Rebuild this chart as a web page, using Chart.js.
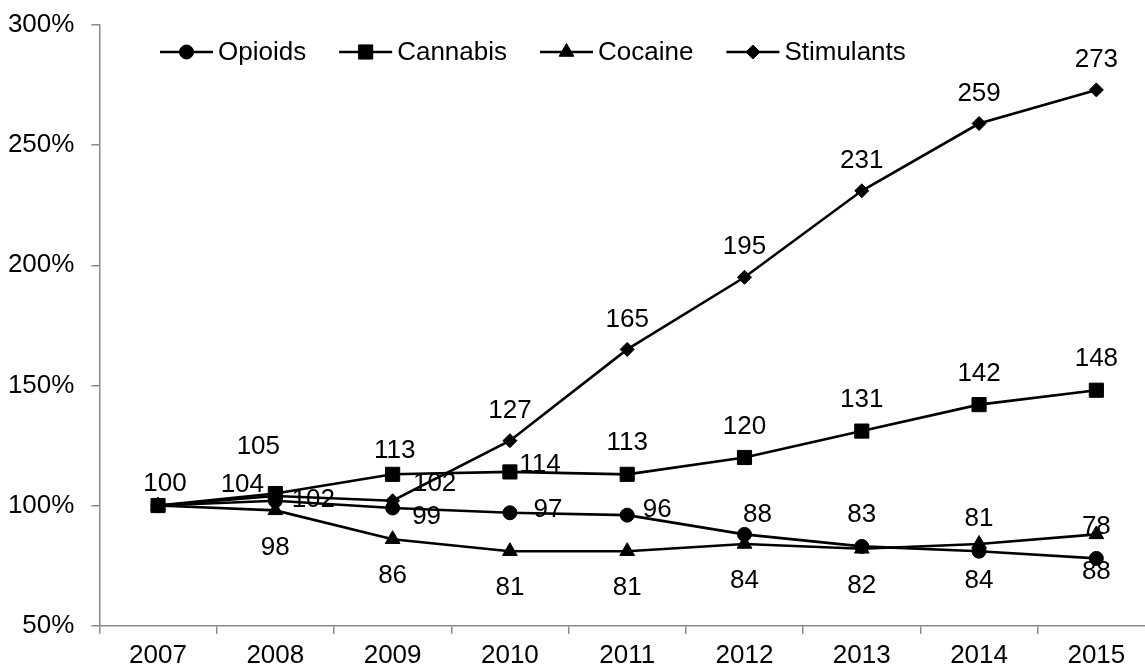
<!DOCTYPE html>
<html><head><meta charset="utf-8">
<script src="https://cdn.jsdelivr.net/npm/chart.js@4.4.1/dist/chart.umd.min.js"></script>
<style>
html,body{margin:0;padding:0;overflow:hidden;background:#fff;}
canvas{display:block;}
</style></head><body>
<canvas id="c" width="1145" height="671" style="width:1145px;height:671px;"></canvas>
<script>
// ---- data ----
const years = ['2007','2008','2009','2010','2011','2012','2013','2014','2015'];
const opioids    = [100, 102,  99,  97,  96,  88,  83,  81,  78];
const cannabis   = [100, 105, 113, 114, 113, 120, 131, 142, 148];
const cocaine    = [100,  98,  86,  81,  81,  84,  82,  84,  88];
const stimulants = [100, 104, 102, 127, 165, 195, 231, 259, 273];
const yTicks = [50, 100, 150, 200, 250, 300];
const seriesNames = ['Opioids', 'Cannabis', 'Cocaine', 'Stimulants'];

// ---- style ----
const FONT = "'Liberation Sans', Arial, sans-serif";
const FS = 26;
const AXIS = '#898989';
const PLOT_RIGHT = 1155; // plot area runs past the right edge of the picture (cropped)

// label placement (offsets of label centre from the point), per series
const placements = [
  { dflt: [0, -33], at: { 0: [7, -23], 1: [38, -2], 2: [34, 8], 3: [38, -4], 4: [30, -6], 5: [13, -21] }, skip: [] },
  { dflt: [0, -32], at: { 1: [-17, -48], 2: [2, -24], 3: [30, -8] }, skip: [0] },
  { dflt: [0, 36], at: {}, skip: [0] },
  { dflt: [0, -31], at: { 1: [-33, -12], 2: [42, -18] }, skip: [0] }
];

function mk(label, data, style, radius, pl) {
  return {
    label, data,
    borderColor: '#000', backgroundColor: '#000', borderWidth: 2.6,
    pointStyle: style, pointRadius: radius, pointHoverRadius: radius,
    pointBackgroundColor: '#000', pointBorderColor: '#000', pointBorderWidth: 1,
    tension: 0, fill: false, clip: false, labelPlacement: pl
  };
}

const extendX = {
  id: 'extendX',
  afterLayout(chart) {
    const s = chart.scales.x;
    s.right = PLOT_RIGHT;
    s.width = PLOT_RIGHT - s.left;
    s.configure();
    chart.chartArea.right = PLOT_RIGHT;
    chart.chartArea.width = PLOT_RIGHT - chart.chartArea.left;
  }
};

const valueLabels = {
  id: 'valueLabels',
  afterDatasetsDraw(chart) {
    const ctx = chart.ctx;
    ctx.save();
    ctx.font = FS + 'px ' + FONT;
    ctx.fillStyle = '#000';
    ctx.textAlign = 'center';
    ctx.textBaseline = 'middle';
    chart.data.datasets.forEach((ds, di) => {
      const meta = chart.getDatasetMeta(di);
      const lp = ds.labelPlacement;
      meta.data.forEach((pt, i) => {
        if (lp.skip.includes(i)) return;
        const off = lp.at[i] || lp.dflt;
        ctx.fillText(String(ds.data[i]), pt.x + off[0], pt.y + off[1] + 1);
      });
    });
    ctx.restore();
  }
};

const lineLegend = {
  id: 'lineLegend',
  afterDraw(chart) {
    const ctx = chart.ctx;
    ctx.save();
    ctx.font = FS + 'px ' + FONT;
    ctx.textBaseline = 'middle';
    ctx.textAlign = 'left';
    let x = 160; const y = 52;
    chart.data.datasets.forEach(ds => {
      ctx.strokeStyle = '#000'; ctx.lineWidth = 2.6;
      ctx.beginPath(); ctx.moveTo(x, y); ctx.lineTo(x + 53, y); ctx.stroke();
      ctx.fillStyle = '#000'; ctx.lineWidth = 1;
      Chart.helpers.drawPoint(ctx, { pointStyle: ds.pointStyle, radius: ds.pointRadius, borderWidth: 1, rotation: 0 }, x + 26.5, y);
      ctx.fillStyle = '#000';
      ctx.fillText(ds.label, x + 58, y + 1);
      x += 58 + ctx.measureText(ds.label).width + 33;
    });
    ctx.restore();
  }
};

new Chart(document.getElementById('c'), {
  type: 'line',
  data: {
    labels: years,
    datasets: [
      mk(seriesNames[0], opioids, 'circle', 7, placements[0]),
      mk(seriesNames[1], cannabis, 'rect', 10, placements[1]),
      mk(seriesNames[2], cocaine, 'triangle', 8.5, placements[2]),
      mk(seriesNames[3], stimulants, 'rectRot', 7, placements[3])
    ]
  },
  options: {
    responsive: false,
    animation: false,
    events: [],
    layout: { padding: { left: 9, top: 25, right: 0, bottom: 0 } },
    plugins: { legend: { display: false }, tooltip: { enabled: false } },
    scales: {
      x: {
        type: 'category',
        offset: true,
        afterFit(s) { s.height = 45.3; s.paddingLeft = 0; s.paddingRight = 0; },
        grid: { display: true, offset: true, drawOnChartArea: false, drawTicks: true, tickLength: 8, color: AXIS, lineWidth: 1.5 },
        border: { display: true, color: AXIS, width: 1.5 },
        ticks: { color: '#000', font: { family: FONT, size: FS }, padding: 7, maxRotation: 0, autoSkip: false }
      },
      y: {
        min: yTicks[0], max: yTicks[yTicks.length - 1],
        afterBuildTicks(scale) { scale.ticks = yTicks.map(v => ({ value: v })); },
        afterFit(s) { s.width = 90.4; s.paddingTop = 0; s.paddingBottom = 0; },
        grid: { display: true, drawOnChartArea: false, drawTicks: true, tickLength: 8, color: AXIS, lineWidth: 1.5 },
        border: { display: true, color: AXIS, width: 1.5 },
        ticks: { color: '#000', font: { family: FONT, size: FS }, padding: 17, callback: v => v + '%' }
      }
    }
  },
  plugins: [extendX, valueLabels, lineLegend]
});
</script>
</body></html>
